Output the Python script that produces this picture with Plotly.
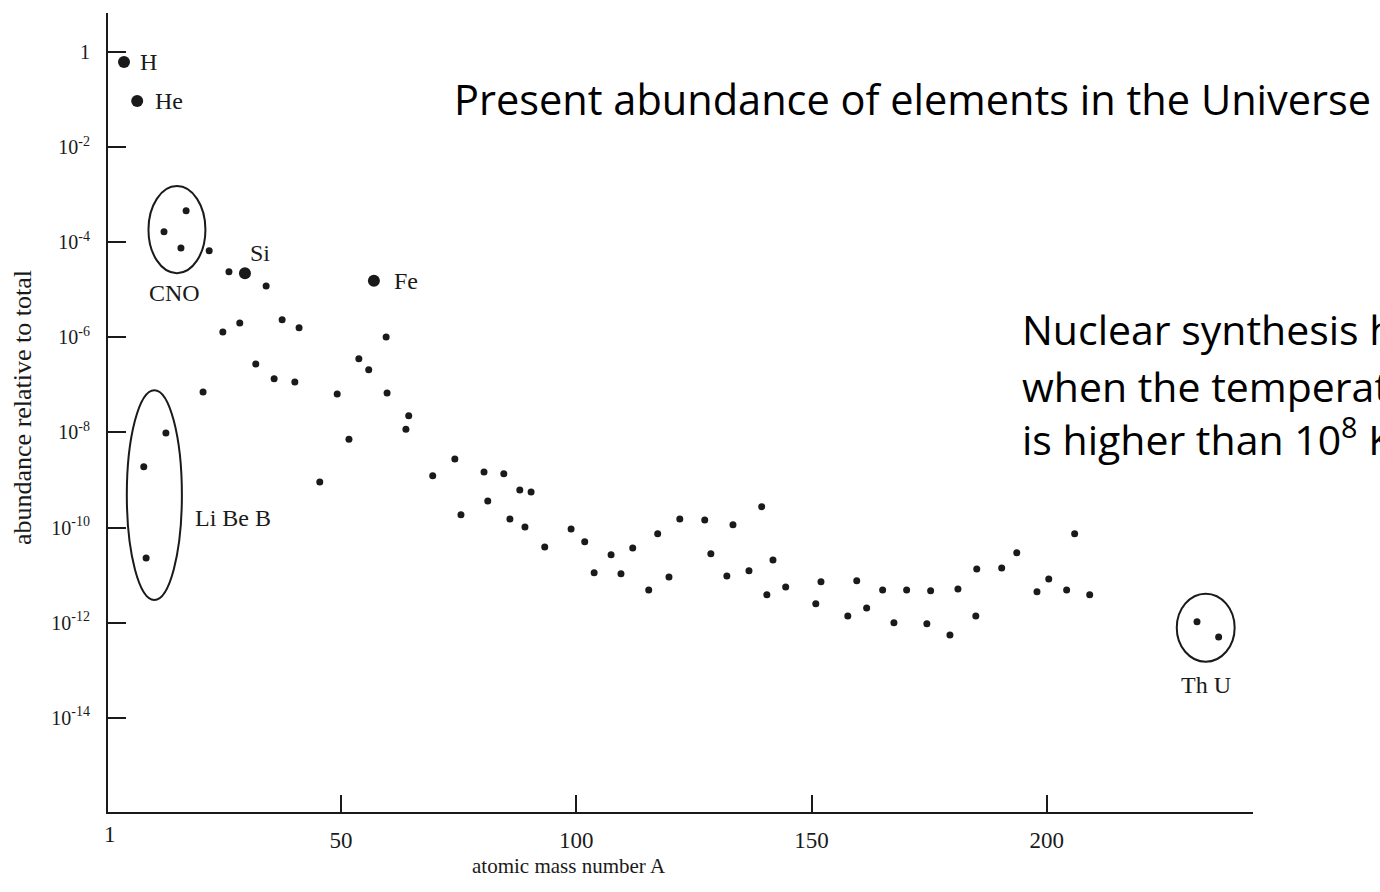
import numpy as np
import plotly.graph_objects as go

# Abundances (log10 of fraction of total) against atomic mass number A
mass_number = [
    17.1, 12.4, 16.0, 22.0, 26.2, 34.1,
    28.5, 24.9, 37.5, 41.1, 59.6, 31.9, 35.8, 40.2, 20.7, 53.8, 55.9,
    49.2, 59.8, 64.4, 63.8, 51.7, 74.2, 69.5, 45.5,
    12.8, 8.1, 8.6,
    75.5, 80.4, 84.6, 81.2, 88.0, 90.4, 85.9, 89.1, 93.3, 98.9, 101.8,
    103.8, 107.4, 109.5, 112.0, 115.4, 117.3, 119.7, 122.0, 127.3, 128.6,
    133.3, 132.0, 136.7, 139.4, 140.5, 141.8, 144.5, 152.0, 150.9, 159.6,
    157.7, 161.7, 165.1, 167.5, 170.2, 174.5, 175.3, 179.4, 181.1, 184.9,
    185.1, 190.4, 193.6, 197.9, 200.4, 204.2, 205.9, 209.1,
    231.9, 236.5,
]
log_abundance = [
    -3.34, -3.78, -4.12, -4.18, -4.62, -4.92,
    -5.70, -5.89, -5.63, -5.80, -5.99, -6.56, -6.87, -6.94, -7.15, -6.45, -6.68,
    -7.19, -7.17, -7.65, -7.93, -8.14, -8.56, -8.91, -9.04,
    -8.01, -8.72, -10.64,
    -9.73, -8.83, -8.87, -9.44, -9.21, -9.25, -9.82, -9.99, -10.41, -10.03, -10.30,
    -10.95, -10.57, -10.97, -10.43, -11.31, -10.13, -11.04, -9.82, -9.84, -10.55,
    -9.94, -11.02, -10.91, -9.56, -11.41, -10.68, -11.25, -11.14, -11.60, -11.12,
    -11.86, -11.69, -11.31, -12.00, -11.31, -12.02, -11.33, -12.26, -11.29, -11.86,
    -10.87, -10.85, -10.53, -11.35, -11.08, -11.31, -10.13, -11.41,
    -11.98, -12.30,
]

# Highlighted elements drawn with larger markers
named_elements = ["H", "He", "Si", "Fe"]
named_mass_number = [3.9, 6.7, 29.6, 57.0]
named_log_abundance = [-0.21, -1.03, -4.65, -4.81]

y_tick_exponents = [0, -2, -4, -6, -8, -10, -12, -14]
y_tick_text = ["1"] + [f"10<sup>{e}</sup>" for e in y_tick_exponents[1:]]
x_tick_values = [50, 100, 150, 200]

W, H = 1380, 892
L, R, T, B = 108, 1253, 13, 812
X_RANGE = [0.5, 243.8]
Y_LOG_RANGE = [-15.98, 0.82]
SERIF = "Liberation Serif"
SANS = "Open Sans"
INK = "#1a1a1a"


def paper_x(px):
    return (px - L) / (R - L)


def paper_y(py):
    return (B - py) / (B - T)


def log_to_paper(v):
    return (v - Y_LOG_RANGE[0]) / (Y_LOG_RANGE[1] - Y_LOG_RANGE[0])


fig = go.Figure()

fig.add_trace(go.Scatter(
    x=mass_number, y=np.power(10.0, log_abundance), mode="markers",
    marker=dict(size=7, color=INK), hoverinfo="x+y", showlegend=False,
))
fig.add_trace(go.Scatter(
    x=named_mass_number, y=np.power(10.0, named_log_abundance), mode="markers",
    marker=dict(size=12, color=INK), text=named_elements, showlegend=False,
))

# Ellipses grouping element families (vertical extent given in decades)
for x0, x1, top, bottom in [(9.1, 21.2, -2.82, -4.65),
                            (4.5, 16.2, -7.11, -11.52),
                            (227.6, 239.9, -11.39, -12.82)]:
    fig.add_shape(type="circle", xref="x", yref="paper", x0=x0, x1=x1,
                  y0=log_to_paper(bottom), y1=log_to_paper(top),
                  line=dict(color=INK, width=2))

labels = [
    ("H", 6.9, -0.21, "left"), ("He", 10.1, -1.03, "left"),
    ("Si", 30.2, -4.23, "left"), ("Fe", 60.8, -4.81, "left"),
    ("CNO", 14.7, -5.07, "center"), ("Li Be B", 18.6, -9.80, "left"),
    ("Th U", 233.8, -13.31, "center"),
]
for text, ax, ay, anchor in labels:
    fig.add_annotation(x=ax, y=ay, xref="x", yref="y", text=text, showarrow=False,
                       xanchor=anchor, yanchor="middle",
                       font=dict(family=SERIF, size=24, color=INK))

# Tick label for A = 1 at the origin
fig.add_annotation(x=1, y=paper_y(834), xref="x", yref="paper", text="1",
                   showarrow=False, xanchor="center", yanchor="middle",
                   font=dict(family=SERIF, size=23, color=INK))

# Axis titles
fig.add_annotation(x=paper_x(22), y=paper_y(408), xref="paper", yref="paper",
                   text="abundance relative to total", textangle=-90, showarrow=False,
                   xanchor="center", yanchor="middle",
                   font=dict(family=SERIF, size=26, color=INK))
fig.add_annotation(x=paper_x(569), y=paper_y(866), xref="paper", yref="paper",
                   text="atomic mass number A", showarrow=False,
                   xanchor="center", yanchor="middle",
                   font=dict(family=SERIF, size=21, color=INK))

# Slide text
fig.add_annotation(x=paper_x(452), y=paper_y(99), xref="paper", yref="paper",
                   text="Present abundance of elements in the Universe", showarrow=False,
                   xanchor="left", yanchor="middle", font=dict(family=SANS, size=41.5, color="#000"))
for line, py in [("Nuclear synthesis happens", 329),
                 ("when the temperature", 386),
                 ("is higher than 10<sup>8</sup> K", 437)]:
    fig.add_annotation(x=paper_x(1020), y=paper_y(py), xref="paper", yref="paper",
                       text=line, showarrow=False, xanchor="left", yanchor="middle",
                       font=dict(family=SANS, size=41, color="#000"))

fig.update_layout(
    width=W, height=H,
    margin=dict(l=L, r=W - R, t=T, b=H - B, pad=0),
    paper_bgcolor="white", plot_bgcolor="white",
    showlegend=False,
    xaxis=dict(range=X_RANGE, tickvals=x_tick_values, ticks="inside", ticklen=17,
               tickwidth=2, tickcolor=INK, showline=True, linecolor=INK, linewidth=2,
               showgrid=False, zeroline=False, ticklabelstandoff=6,
               tickfont=dict(family=SERIF, size=23, color=INK)),
    yaxis=dict(type="log", range=Y_LOG_RANGE,
               tickvals=[10.0 ** e for e in y_tick_exponents], ticktext=y_tick_text,
               ticks="inside", ticklen=18, tickwidth=2, tickcolor=INK,
               showline=True, linecolor=INK, linewidth=2, showgrid=False, zeroline=False,
               ticklabelstandoff=12, tickfont=dict(family=SERIF, size=20, color=INK)),
)

fig.write_html("out.html")
